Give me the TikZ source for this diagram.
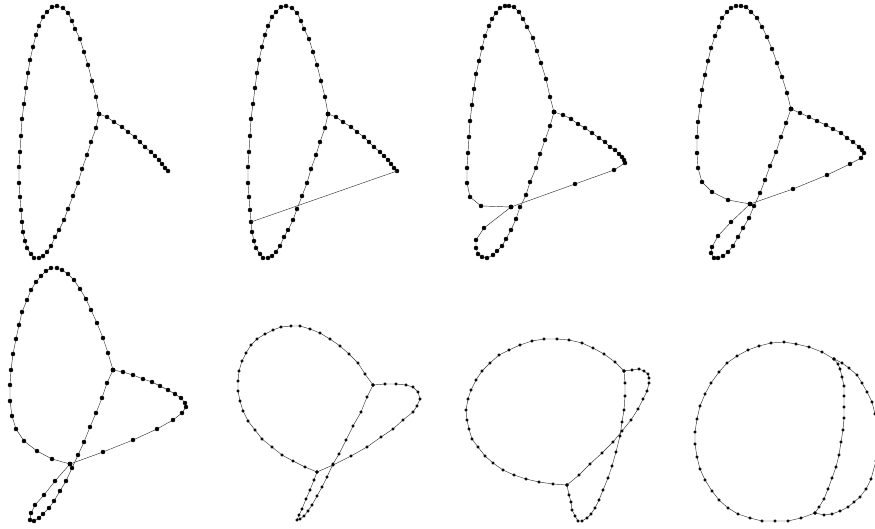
\documentclass[tikz,border=0pt]{standalone}
\usepackage{tikz}
\usetikzlibrary{plotmarks}

% the first (open) shape, used again in the second panel
\newcommand{\openloop}{%
  \draw[bigdots] plot coordinates {(99,114) (96,97) (92,81) (88,65) (84,52) (80,39) (75,29) (72,21) (68,13) (63,8) (57,6) (52,7) (47,12) (43,17) (39,26) (36,35) (33,47) (30,60) (28,73) (26,88) (24,104) (22,119) (21,136) (20,152) (19,167) (19,183) (20,197) (21,210) (22,222) (23,232) (25,241) (27,248) (31,254) (34,258) (39,258) (43,256) (47,252) (51,246) (55,237) (59,230) (64,220) (68,209) (73,196) (78,183) (82,169) (87,155) (91,142) (96,128) (99,114)};
  \draw[bigdots] plot coordinates {(99,114) (107,117) (114,122) (122,127) (128,132) (135,137) (140,142) (145,147) (151,152) (155,156) (159,160) (162,164) (165,168) (168,171)};
}

\begin{document}
\begin{tikzpicture}[
    x=1pt, y=-1pt,
    wire/.style={black!80, line width=0.45pt},
    bigdots/.style={wire, mark=*, mark size=2pt, mark options={fill=black, draw=black}},
    smalldots/.style={wire, mark=*, mark size=1.4pt, mark options={fill=black, draw=black}}
]
\clip (0,0) rectangle (875,529);

% panel 1
\openloop

% panel 2
\begin{scope}[shift={(229,0)}]
  \openloop
  \coordinate (tip2) at (168,171);
  \coordinate (hook2) at (22,222);
  \draw[wire] (tip2) -- (hook2);
\end{scope}

% panel 3
\begin{scope}[shift={(440,0)}]
  \draw[bigdots] plot coordinates {(114,112) (110,97) (106,79) (101,63) (97,51) (93,38) (87,27) (83,19) (79,12) (74,7) (69,6) (65,6) (60,8) (56,13) (52,19) (49,26) (45,36) (42,48) (39,61) (36,74) (34,89) (32,105) (30,121) (29,137) (28,153) (27,168) (27,183) (30,197) (41,206) (71,207)};
  \draw[bigdots] plot coordinates {(114,112) (110,126) (105,140) (100,154) (96,168) (90,182) (86,195) (80,207) (76,219) (71,230) (66,239) (62,246) (57,251) (53,255) (47,258) (42,257) (38,254) (36,248) (36,240) (44,228) (71,207)};
  \draw[bigdots] plot coordinates {(114,112) (123,115) (131,119) (138,124) (145,128) (152,133) (159,138) (165,142) (170,147) (175,150) (179,154) (182,157) (184,160) (185,163) (174,170) (135,184) (71,207)};
\end{scope}

% panel 4
\begin{scope}[shift={(660,0)}]
  \draw[bigdots] plot coordinates {(131,109) (127,93) (122,77) (117,63) (112,49) (107,37) (102,27) (97,18) (91,12) (86,7) (81,6) (76,6) (71,8) (67,12) (62,18) (59,27) (55,36) (51,48) (48,61) (45,75) (42,90) (40,106) (38,122) (37,137) (37,153) (38,168) (42,182) (52,192) (68,200) (90,204)};
  \draw[bigdots] plot coordinates {(131,109) (126,123) (121,137) (116,152) (110,166) (105,180) (100,193) (94,206) (89,218) (83,228) (78,237) (73,246) (68,252) (63,256) (58,258) (54,258) (51,253) (52,247) (58,236) (71,222) (90,204)};
  \draw[bigdots] plot coordinates {(131,109) (140,113) (149,117) (157,121) (166,125) (173,129) (181,133) (187,138) (193,142) (199,147) (202,150) (204,153) (201,158) (190,164) (167,175) (133,189) (90,204)};
\end{scope}

% panel 5
\begin{scope}[shift={(0,264)}]
  \draw[bigdots] plot coordinates {(113,106) (108,89) (103,74) (97,59) (91,46) (86,35) (80,25) (74,16) (68,10) (62,6) (57,4) (51,4) (46,7) (41,12) (36,18) (31,26) (27,36) (22,48) (19,61) (16,75) (13,90) (11,106) (10,121) (10,137) (12,152) (16,165) (24,177) (37,187) (52,195) (70,200)};
  \draw[bigdots] plot coordinates {(113,106) (107,119) (102,134) (96,149) (90,163) (84,178) (78,191) (72,204) (66,217) (60,227) (54,237) (49,244) (43,250) (39,254) (34,257) (30,256) (31,249) (35,241) (44,231) (55,217) (70,200)};
  \draw[bigdots] plot coordinates {(113,106) (123,108) (133,111) (143,115) (152,118) (160,122) (168,126) (175,130) (181,134) (185,139) (186,143) (182,149) (173,156) (157,165) (133,176) (103,188) (70,200)};
\end{scope}

% panel 6
\begin{scope}[shift={(220,264)}]
  \draw[smalldots] plot coordinates {(153,121) (145,110) (138,99) (129,90) (120,82) (110,75) (100,69) (90,65) (80,62) (71,62) (61,63) (53,66) (45,70) (37,75) (31,81) (26,89) (22,97) (19,107) (18,117) (18,127) (20,137) (23,147) (28,157) (35,166) (42,175) (52,183) (62,191) (73,197) (85,203) (97,208)};
  \draw[smalldots] plot coordinates {(153,121) (147,133) (141,148) (133,162) (126,176) (119,190) (113,200) (107,213) (102,223) (97,232) (92,241) (88,247) (84,252) (80,255) (77,256) (79,251) (82,245) (86,235) (90,226) (94,216) (97,208)};
  \draw[smalldots] plot coordinates {(153,121) (165,120) (176,120) (186,121) (193,123) (198,128) (200,135) (197,142) (193,148) (183,156) (173,165) (161,173) (147,183) (131,192) (113,201) (97,208)};
\end{scope}

% panel 7
\begin{scope}[shift={(440,264)}]
  \draw[smalldots] plot coordinates {(184,107) (175,98) (164,90) (153,84) (142,79) (129,76) (117,75) (104,75) (92,77) (80,81) (69,86) (59,91) (50,99) (42,107) (36,116) (31,126) (28,135) (26,146) (27,156) (29,165) (32,175) (38,183) (45,192) (53,199) (63,206) (74,211) (86,215) (99,218) (113,220) (127,221)};
  \draw[smalldots] plot coordinates {(184,107) (185,119) (185,132) (184,146) (182,158) (180,172) (176,188) (172,202) (168,214) (163,226) (159,236) (155,244) (151,250) (147,254) (142,257) (138,257) (135,252) (132,246) (131,238) (129,231) (127,221)};
  \draw[smalldots] plot coordinates {(184,107) (192,106) (199,105) (204,107) (208,110) (209,114) (209,119) (207,127) (203,135) (198,145) (191,156) (182,167) (173,178) (162,189) (150,200) (139,211) (127,221)};
\end{scope}

% panel 8
\begin{scope}[shift={(660,264)}]
  \draw[smalldots] plot coordinates {(174,95) (162,88) (149,83) (136,80) (124,78) (111,79) (99,82) (88,86) (77,92) (67,99) (59,108) (51,119) (45,130) (40,142) (37,155) (35,168) (35,180) (37,193) (40,205) (45,216) (52,227) (59,236) (68,244) (78,250) (90,254) (102,257) (115,257) (128,257) (141,254) (155,249)};
  \draw[smalldots] plot coordinates {(174,95) (178,100) (180,105) (182,113) (184,122) (184,132) (184,143) (184,154) (183,166) (181,178) (179,191) (176,203) (172,214) (168,225) (164,235) (159,243) (155,249)};
  \draw[smalldots] plot coordinates {(174,95) (182,99) (189,104) (197,111) (202,119) (207,128) (212,138) (215,150) (218,162) (220,174) (219,186) (216,197) (211,215) (206,225) (200,233) (194,238) (188,243) (180,247) (172,250) (164,251) (155,249)};
\end{scope}
\end{tikzpicture}
\end{document}
